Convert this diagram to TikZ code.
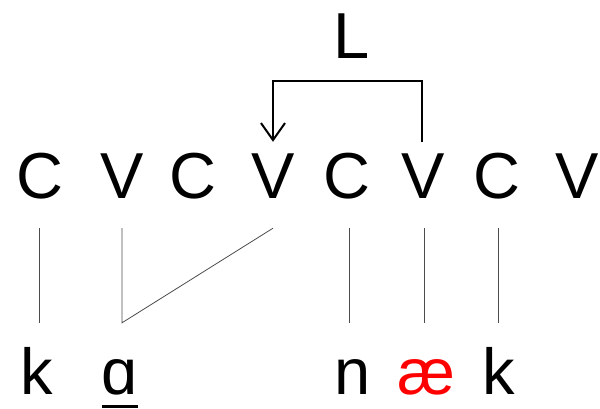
\documentclass[tikz,border=0pt]{standalone}
\usepackage{fontspec}
\setmainfont{Liberation Sans}
\usepackage{tikz}
\usetikzlibrary{arrows.meta}
\newcommand{\segfont}{\fontsize{65}{78}\selectfont}
\newcommand{\stressbar}[1]{\rlap{\rule[-14pt]{36pt}{3.5pt}}#1}
\definecolor{vowelred}{RGB}{255,0,0}
\tikzset{slot/.style={font=\segfont, inner sep=0pt, anchor=base, text height=56pt, text depth=30pt},
	melody/.style={font=\segfont, inner sep=0pt, anchor=base, text height=71pt, text depth=0pt},
	assoc/.style={draw=black!70, line width=0.8pt},
	spread/.style={draw, line width=2pt, -{Straight Barb[length=17pt,width=24pt,line width=2pt]}}}

\begin{document}
\begin{tikzpicture}[x=1pt,y=-1pt]
		\useasboundingbox (0,0) rectangle (600,409);
		%		skeleton
		\node[slot] (c1) at (40,198){C};
		\node[slot] (v2) at (122,198){V};
		\node[slot] (c3) at (193,198){C};
		\node[slot] (v4) at (273,198){V};
		\node[slot] (c5) at (347,198){C};
		\node[slot] (v6) at (423,198){V};
		\node[slot] (c7) at (497,198){C};
		\node[slot] (v8) at (577,198){V};
		\node[font=\segfont, inner sep=0pt, anchor=base] (L) at (352,59){L};
		%		melody
		\node[melody] (k1) at (37,394){k};
		\node[melody] (a2) at (120,394){\stressbar{ɑ}};
		\node[melody] (n5) at (353,394){n};
		\node[melody, text=vowelred] (ae6) at (426,394){æ};
		\node[melody] (k7) at (499,394){k};
		\draw[assoc] (c1.south -| 39,0) -- (k1.north -| 39,0);
		\draw[assoc] (v2.south) -- (v2.south |- a2.north) -- (v4.south);
		\draw[assoc] (c5.south -| 349,0) -- (k1.north -| 349,0);
		\draw[assoc] (v6.south -| 424,0) -- (k1.north -| 424,0);
		\draw[assoc] (c7.south -| 498,0) -- (k1.north -| 498,0);
		\draw[spread] (v6.north -| 422,0) -- ++(0,-61) -| (v4.north);
		\end{tikzpicture}
\end{document}
